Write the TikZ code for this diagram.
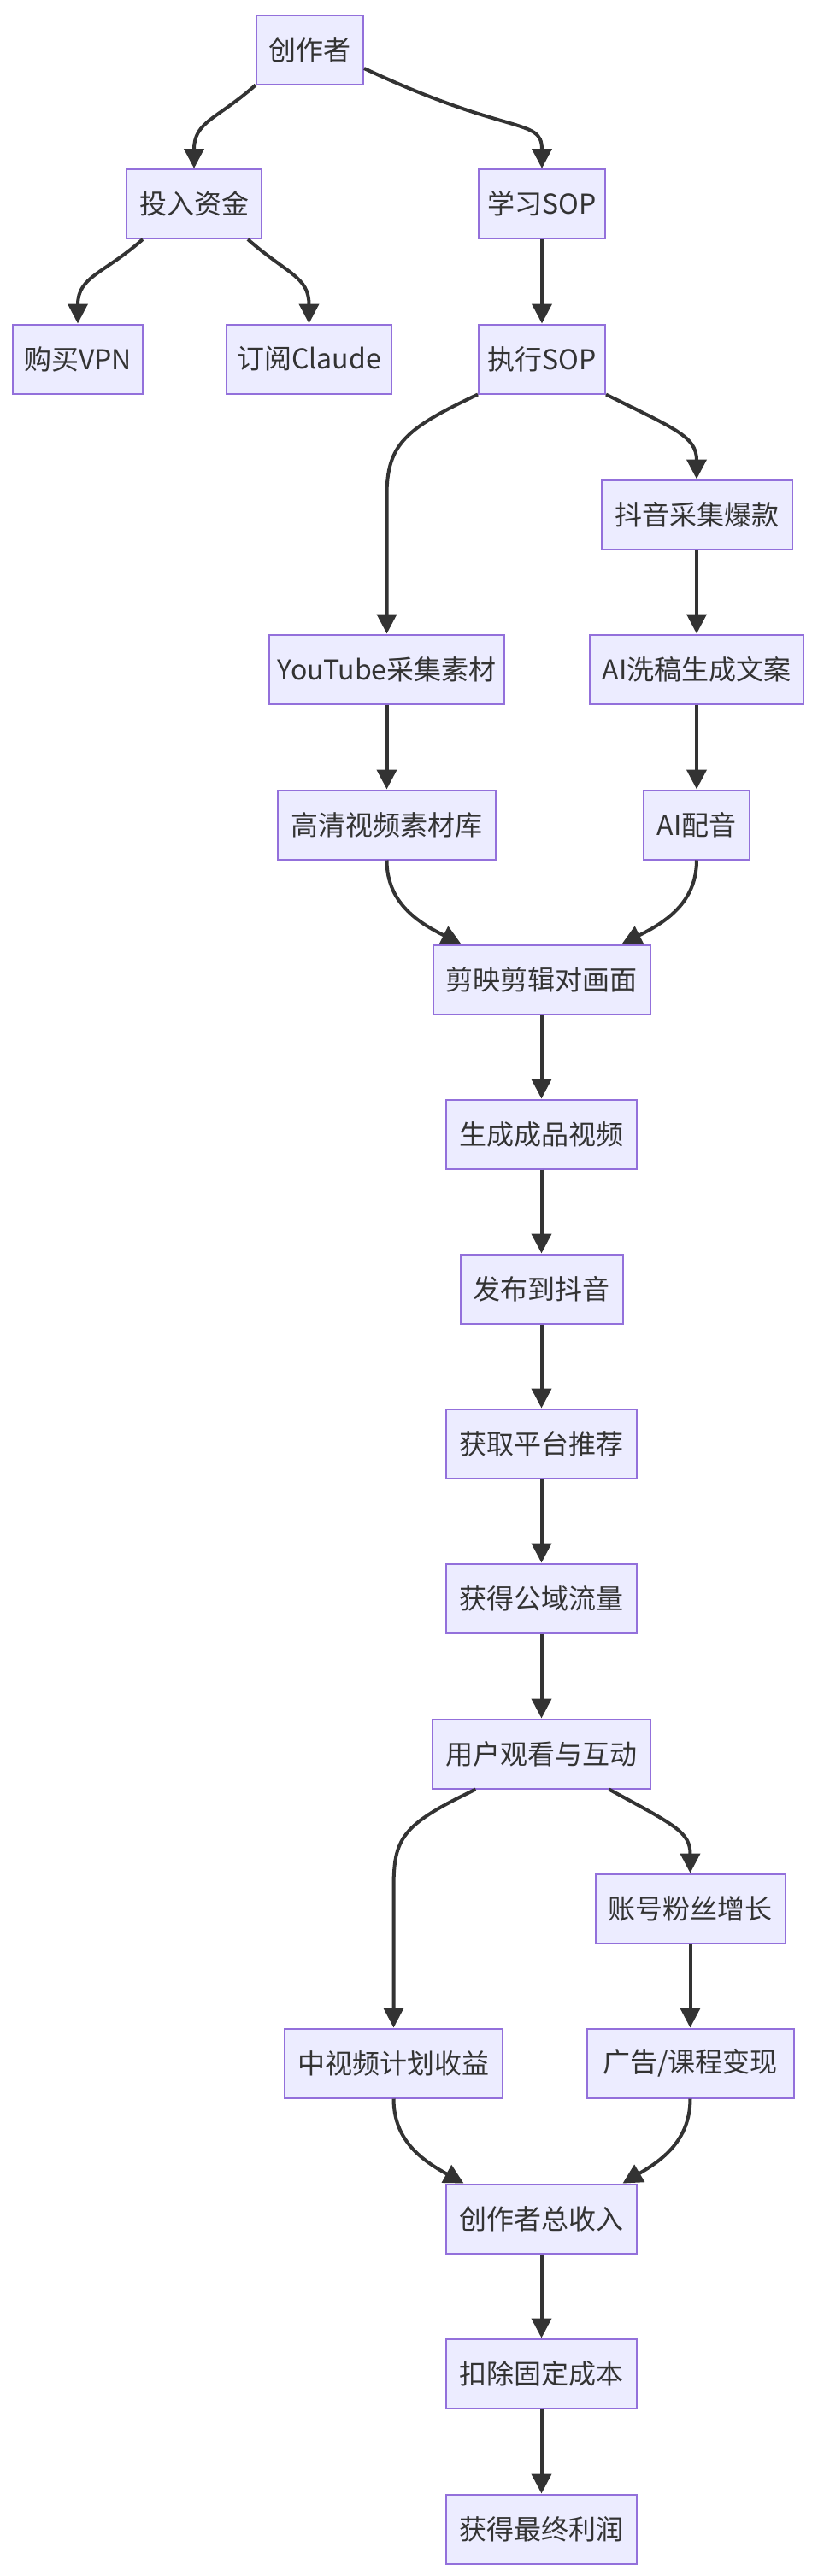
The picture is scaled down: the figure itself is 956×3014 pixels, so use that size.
\documentclass[tikz,border=0pt]{standalone}
\usepackage{fontspec}
\setmainfont{Noto Sans CJK SC}
\usetikzlibrary{arrows.meta}
\definecolor{nodefill}{HTML}{ECECFF}
\definecolor{nodeline}{HTML}{9370DB}
\definecolor{ink}{HTML}{333333}
\tikzset{
  box/.style={draw=nodeline, fill=nodefill, line width=2pt, minimum height=81pt,
    inner sep=0pt, text=ink, font=\fontsize{32}{32}\selectfont},
  edge/.style={draw=ink, line width=4pt, -{Triangle[length=23pt,width=23pt]}}
}
\begin{document}
\begin{tikzpicture}[x=1pt,y=-1pt]
\fill[white] (0,0) rectangle (956,3014);
\useasboundingbox (0,0) rectangle (956,3014);
% nodes
\node[box, minimum width=125pt] (n1) at (362.5,58) {创作者};
\node[box, minimum width=158pt] (n2) at (227,238.5) {投入资金};
\node[box, minimum width=148pt] (n3) at (634,238.5) {学习SOP};
\node[box, minimum width=152pt] (n4) at (91,420) {购买VPN};
\node[box, minimum width=193pt] (n5) at (361.5,420) {订阅Claude};
\node[box, minimum width=148pt] (n6) at (634,420) {执行SOP};
\node[box, minimum width=223pt] (n7) at (815,602) {抖音采集爆款};
\node[box, minimum width=275pt] (n8) at (452.5,783) {YouTube采集素材};
\node[box, minimum width=250pt] (n9) at (815,783) {AI洗稿生成文案};
\node[box, minimum width=255pt] (n10) at (452.5,965) {高清视频素材库};
\node[box, minimum width=124pt] (n11) at (815,965) {AI配音};
\node[box, minimum width=254pt] (n12) at (633.5,1146) {剪映剪辑对画面};
\node[box, minimum width=223pt] (n13) at (633.5,1327) {生成成品视频};
\node[box, minimum width=190pt] (n14) at (633.5,1508) {发布到抖音};
\node[box, minimum width=223pt] (n15) at (633.5,1689) {获取平台推荐};
\node[box, minimum width=223pt] (n16) at (633.5,1870) {获得公域流量};
\node[box, minimum width=255pt] (n17) at (633.5,2052) {用户观看与互动};
\node[box, minimum width=222pt] (n18) at (807.5,2233) {账号粉丝增长};
\node[box, minimum width=255pt] (n19) at (460.5,2414) {中视频计划收益};
\node[box, minimum width=242pt] (n20) at (807.5,2414) {广告/课程变现};
\node[box, minimum width=223pt] (n21) at (633.5,2596) {创作者总收入};
\node[box, minimum width=223pt] (n22) at (633.5,2777) {扣除固定成本};
\node[box, minimum width=223pt] (n23) at (633.5,2959) {获得最终利润};
% edges
\draw[edge] (n1.south west) .. controls +(-45,40) and +(0,-55) .. (n2.north);
\draw[edge] ([yshift=-22pt]n1.east) .. controls +(170,80) and +(0,-60) .. (n3.north);
\draw[edge] ([xshift=-60pt]n2.south) .. controls +(-45,40) and +(0,-55) .. (n4.north);
\draw[edge] ([xshift=63pt]n2.south) .. controls +(45,40) and +(0,-55) .. (n5.north);
\draw[edge] (n3) -- (n6);
\draw[edge] (n6.south west) .. controls +(-85,40) and +(0,-60) .. (n8.north |- 0,580) -- (n8.north);
\draw[edge] (n6.south east) .. controls +(80,40) and +(0,-50) .. (n7.north);
\draw[edge] (n7) -- (n9);
\draw[edge] (n8) -- (n10);
\draw[edge] (n9) -- (n11);
\draw[edge] (n10.south) .. controls +(0,50) and +(-50,-25) .. ([xshift=-94pt]n12.north);
\draw[edge] (n11.south) .. controls +(0,50) and +(50,-25) .. ([xshift=94pt]n12.north);
\draw[edge] (n12) -- (n13);
\draw[edge] (n13) -- (n14);
\draw[edge] (n14) -- (n15);
\draw[edge] (n15) -- (n16);
\draw[edge] (n16) -- (n17);
\draw[edge] ([xshift=-77pt]n17.south) .. controls +(-87,42) and +(0,-60) .. (n19.north |- 0,2210) -- (n19.north);
\draw[edge] ([xshift=79pt]n17.south) .. controls +(77,42) and +(0,-48) .. (n18.north);
\draw[edge] (n18) -- (n20);
\draw[edge] (n19.south) .. controls +(0,50) and +(-47,-26) .. ([xshift=-91pt]n21.north);
\draw[edge] (n20.south) .. controls +(0,50) and +(44,-26) .. ([xshift=95pt]n21.north);
\draw[edge] (n21) -- (n22);
\draw[edge] (n22) -- (n23);
\end{tikzpicture}
\end{document}
